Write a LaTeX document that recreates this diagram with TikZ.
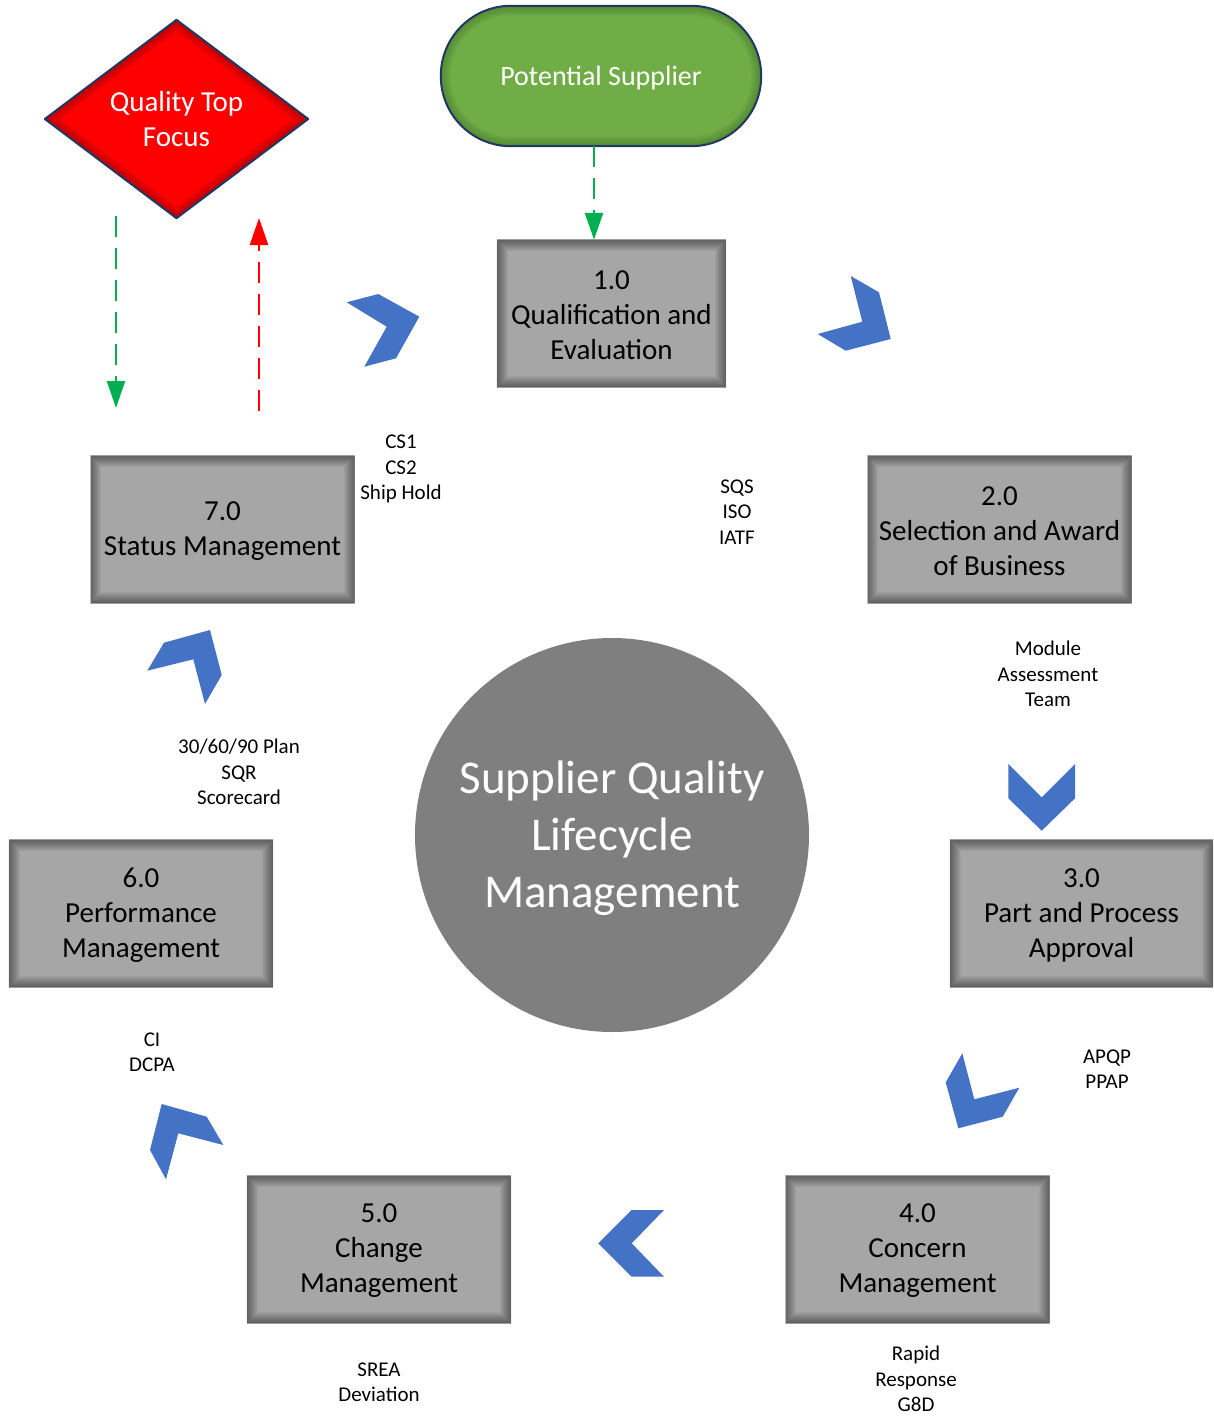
\documentclass[tikz,border=0pt]{standalone}
\usepackage{fontspec}
\setmainfont{Carlito}
\usetikzlibrary{shapes.geometric,arrows.meta}
\definecolor{boxgray}{HTML}{A6A6A6}
\definecolor{chev}{HTML}{4472C4}
\definecolor{circgray}{HTML}{7F7F7F}
\definecolor{pgreen}{HTML}{70AD47}
\definecolor{navy}{HTML}{203864}
\definecolor{arrgreen}{HTML}{00B050}
\definecolor{darkred}{HTML}{7A0000}
\definecolor{darkgreen}{HTML}{3F6A25}
\newcommand{\rectglow}[2]{%
  \begin{scope}
    \clip (#1.north west) rectangle (#1.south east);
    \foreach \w in {2,4,...,22}
      \draw[line width=\w pt, #2, opacity=0.045] (#1.north west) rectangle (#1.south east);
  \end{scope}}
\begin{document}
\begin{tikzpicture}[x=1pt,y=-1pt,
  stagebox/.style={rectangle, fill=boxgray, minimum width=264pt, minimum height=147pt,
    inner sep=0pt, align=center, font=\fontsize{29}{35}\selectfont},
  stagetext/.style={rectangle, inner sep=0pt, align=center, font=\fontsize{29}{35}\selectfont},
  note/.style={align=center, font=\fontsize{21}{25.5}\selectfont, inner sep=0pt},
  chevron/.style={fill=chev, draw=none},
  flowarrow/.style={line width=2.5pt, dash pattern=on 21pt off 11pt,
    -{Triangle[width=18pt,length=27pt]}},
]
\useasboundingbox (0,0) rectangle (1213,1416);

% centre circle
\node[circle, fill=circgray, minimum size=394pt, inner sep=0pt] (core) at (612,835) {};
\node[align=center, text=white, font=\fontsize{47}{57}\selectfont] (coretext) at ([yshift=-3pt]core.center)
  {Supplier Quality\\Lifecycle\\Management};

% potential supplier
\node[rectangle, rounded corners=70pt, fill=pgreen, minimum width=320pt, minimum height=140pt,
  inner sep=0pt] (ps) at (601,76) {};
\begin{scope}
  \clip[rounded corners=70pt] (ps.north west) rectangle (ps.south east);
  \foreach \w in {2,4,...,20}
    \draw[line width=\w pt, darkgreen, opacity=0.06, rounded corners=70pt] (ps.north west) rectangle (ps.south east);
\end{scope}
\draw[navy, line width=2pt, rounded corners=70pt] (ps.north west) rectangle (ps.south east);
\node[text=white, font=\fontsize{28}{34}\selectfont] (pstext) at ([yshift=-2pt]ps.center) {Potential Supplier};

% quality top focus
\node[diamond, fill=red, minimum width=263pt, minimum height=198pt, aspect=1.33,
  inner sep=0pt] (qt) at (176.5,119) {};
\begin{scope}
  \clip (qt.north)--(qt.east)--(qt.south)--(qt.west)--cycle;
  \foreach \w in {2,4,...,20}
    \draw[line width=\w pt, darkred, opacity=0.06] (qt.north)--(qt.east)--(qt.south)--(qt.west)--cycle;
\end{scope}
\draw[navy, line width=2pt, line join=round] (qt.north)--(qt.east)--(qt.south)--(qt.west)--cycle;
\node[align=center, text=white, font=\fontsize{29}{35}\selectfont] (qttext) at (qt.center) {Quality Top\\Focus};

% stage boxes
\node[stagebox, minimum width=229pt] (q1) at (611.5,313.5) {};
\node[stagebox] (s2) at (999.5,529.5) {};
\node[stagebox, minimum width=263pt] (p3) at (1081.5,913.5) {};
\node[stagebox] (c4) at (917.5,1249.5) {};
\node[stagebox] (m5) at (379,1249.5) {};
\node[stagebox] (pm6) at (141,913.5) {};
\node[stagebox] (st7) at (222.5,529.5) {};
\foreach \n in {q1,s2,p3,c4,m5,pm6,st7} {\rectglow{\n}{black}}
\node[stagetext] (q1t) at ([yshift=-1.5pt]q1.center) {1.0\\Qualification and\\Evaluation};
\node[stagetext] (s2t) at ([yshift=-1.5pt]s2.center) {2.0\\Selection and Award\\of Business};
\node[stagetext] (p3t) at ([yshift=-1.5pt]p3.center) {3.0\\Part and Process\\Approval};
\node[stagetext] (c4t) at ([yshift=-1.5pt]c4.center) {4.0\\Concern\\Management};
\node[stagetext] (m5t) at ([yshift=-1.5pt]m5.center) {5.0\\Change\\Management};
\node[stagetext] (pm6t) at ([yshift=-1.5pt]pm6.center) {6.0\\Performance\\Management};
\node[stagetext] (st7t) at ([yshift=-1.5pt]st7.center) {7.0\\Status Management};

% chevrons
\fill[chevron] (346.7,302.3)--(378.3,294)--(419.3,316.7)--(396,358.3)--(364.3,366.7)--(386.7,326.7)--cycle;
\fill[chevron] (850.7,276)--(879,292.3)--(890.7,339)--(845.7,350.7)--(817.7,334)--(862.3,321.7)--cycle;
\fill[chevron] (1008.3,764)--(1008.3,798.3)--(1041.7,830.7)--(1075,798.3)--(1075,764)--(1041.7,797.3)--cycle;
\fill[chevron] (962.3,1053.3)--(945.7,1082.3)--(958.3,1128.3)--(1002.7,1116.7)--(1019.3,1087.7)--(974.3,1099.3)--cycle;
\fill[chevron] (664,1210)--(631.7,1210)--(598.3,1243.3)--(631.7,1276.7)--(664,1276.7)--(631.7,1243.3)--cycle;
\fill[chevron] (161.7,1104)--(206.7,1116.7)--(223.3,1145)--(178.3,1133.3)--(166,1179.3)--(150,1150)--cycle;
\fill[chevron] (147.3,670.7)--(164,642.7)--(210,630)--(221.7,675)--(205,704)--(193.3,659.3)--cycle;

% dashed arrows
\draw[flowarrow, arrgreen] ([xshift=-7pt]ps.south) -- ([xshift=-7pt]ps.south |- q1.north);
\coordinate (gA) at (116,216);
\coordinate (gB) at (116,408);
\coordinate (rA) at (259,411);
\coordinate (rB) at (259,218);
\draw[flowarrow, arrgreen] (gA) -- (gB);
\draw[flowarrow, red] (rA) -- (rB);

% notes
\node[note] (n1) at (401,469) {CS1\\CS2\\Ship Hold};
\node[note] (n2) at (737,512) {SQS\\ISO\\IATF};
\node[note] (n3) at (1048,674) {Module\\Assessment\\Team};
\node[note] (n4) at (1107,1069) {APQP\\PPAP};
\node[note] (n5) at (916,1379) {Rapid\\Response\\G8D};
\node[note] (n6) at (379,1382) {SREA\\Deviation};
\node[note] (n7) at (152,1052) {CI\\DCPA};
\node[note] (n8) at (239,772) {30/60/90 Plan\\SQR\\Scorecard};
\end{tikzpicture}
\end{document}
